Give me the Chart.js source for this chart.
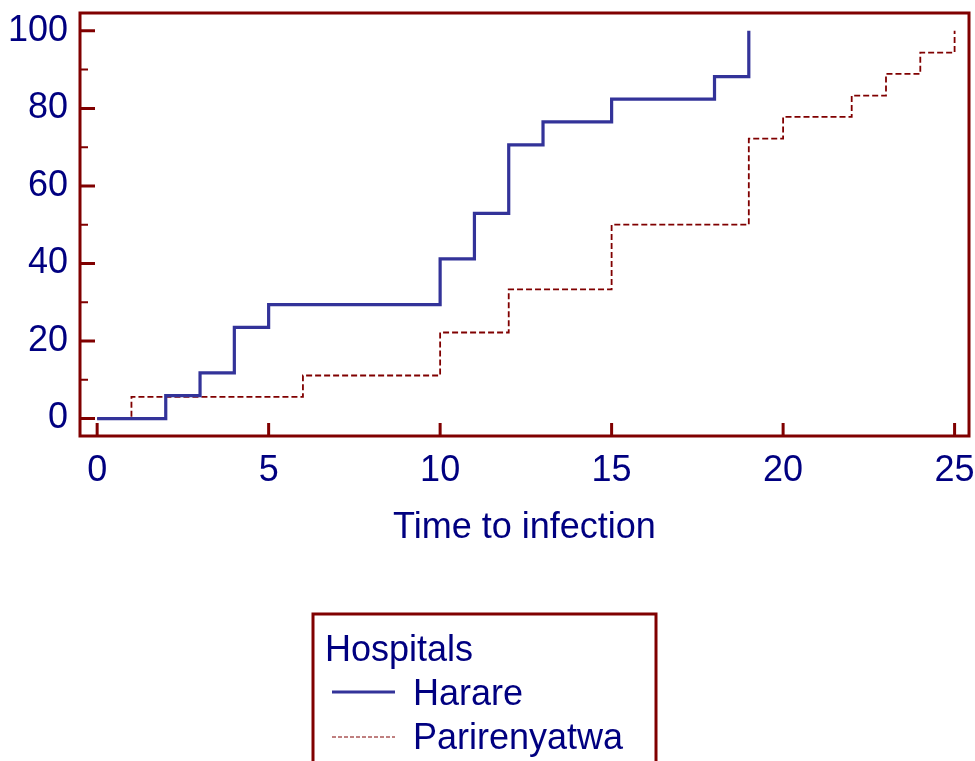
<!DOCTYPE html>
<html>
<head>
<meta charset="utf-8">
<script src="https://cdn.jsdelivr.net/npm/chart.js@4/dist/chart.umd.min.js"></script>
<style>
  html, body { margin: 0; padding: 0; background: #fff; }
  #wrap { width: 975px; height: 761px; position: relative; }
</style>
</head>
<body>
<div id="wrap"><canvas id="km"></canvas></div>
<script>
// Cumulative infection curves by hospital (step functions)
const harareTimes = [0, 2, 3, 4, 5, 10, 11, 12, 13, 15, 18, 19];
const harareValues = [0, 5.9, 11.8, 23.5, 29.4, 41.2, 52.9, 70.6, 76.5, 82.4, 88.2, 100];
const parirenyatwaTimes = [0, 1, 6, 10, 12, 15, 19, 20, 22, 23, 24, 25];
const parirenyatwaValues = [0, 5.6, 11.1, 22.2, 33.3, 50, 72.2, 77.8, 83.3, 88.9, 94.4, 100];
const xTicks = [0, 5, 10, 15, 20, 25];
const yTicks = [0, 20, 40, 60, 80, 100];
const yMinorTicks = [10, 30, 50, 70, 90];
const legendTitle = 'Hospitals';
const xTitle = 'Time to infection';

const FRAME = '#800000';
const NAVY = '#000080';
const FONT = 'Liberation Sans, Arial, sans-serif';

function toPoints(xs, ys) {
  return xs.map((x, i) => ({ x: x, y: ys[i] }));
}

// inward tick marks + box round the plot
const framePlugin = {
  id: 'frame',
  afterDatasetsDraw(chart) {
    const { ctx, chartArea: a, scales } = chart;
    ctx.save();
    ctx.strokeStyle = FRAME;
    ctx.lineWidth = 3;
    ctx.lineCap = 'butt';
    ctx.beginPath();
    xTicks.forEach(v => {
      const px = scales.x.getPixelForValue(v);
      ctx.moveTo(px, a.bottom);
      ctx.lineTo(px, a.bottom - 13);
    });
    yTicks.forEach(v => {
      const py = scales.y.getPixelForValue(v);
      ctx.moveTo(a.left, py);
      ctx.lineTo(a.left + 15, py);
    });
    ctx.stroke();
    ctx.lineWidth = 2;
    ctx.beginPath();
    yMinorTicks.forEach(v => {
      const py = scales.y.getPixelForValue(v);
      ctx.moveTo(a.left, py);
      ctx.lineTo(a.left + 8, py);
    });
    ctx.stroke();
    ctx.lineWidth = 3;
    ctx.strokeRect(a.left, a.top, a.right - a.left, a.bottom - a.top);
    ctx.restore();
  }
};

// boxed legend with title, below the axis title
const boxLegend = {
  id: 'boxLegend',
  afterDraw(chart) {
    const ctx = chart.ctx;
    ctx.save();
    ctx.strokeStyle = FRAME;
    ctx.lineWidth = 3;
    ctx.strokeRect(313, 614, 343, 160);
    ctx.font = '36px ' + FONT;
    ctx.fillStyle = NAVY;
    ctx.textBaseline = 'alphabetic';
    ctx.textAlign = 'left';
    ctx.fillText(legendTitle, 325, 661);
    chart.data.datasets.forEach((ds, i) => {
      const base = 705 + i * 44;
      const ly = 692 + i * 45;
      ctx.strokeStyle = ds.borderColor;
      ctx.lineWidth = i === 0 ? 3 : 1;
      ctx.setLineDash(i === 0 ? [] : [4, 2]);
      ctx.beginPath();
      ctx.moveTo(332, ly);
      ctx.lineTo(395, ly);
      ctx.stroke();
      ctx.setLineDash([]);
      ctx.fillText(ds.label, 413, base);
    });
    ctx.restore();
  }
};

new Chart(document.getElementById('km'), {
  type: 'line',
  data: {
    datasets: [{
      label: 'Harare',
      data: toPoints(harareTimes, harareValues),
      borderColor: '#333399',
      borderWidth: 3.2,
      stepped: true,
      pointRadius: 0,
      fill: false
    }, {
      label: 'Parirenyatwa',
      data: toPoints(parirenyatwaTimes, parirenyatwaValues),
      borderColor: FRAME,
      borderWidth: 1.8,
      borderDash: [6, 3],
      stepped: true,
      pointRadius: 0,
      fill: false
    }]
  },
  options: {
    responsive: true,
    maintainAspectRatio: false,
    animation: false,
    layout: { padding: { top: 13, right: 6, left: 0, bottom: 0 } },
    plugins: { legend: { display: false }, tooltip: { enabled: false } },
    scales: {
      x: {
        type: 'linear',
        min: -0.5,
        max: 25.42,
        afterBuildTicks: s => { s.ticks = xTicks.map(v => ({ value: v })); },
        afterFit: s => { s.height = 325; s.paddingLeft = 0; s.paddingRight = 0; },
        grid: { display: false, drawTicks: false },
        border: { display: false },
        ticks: { color: NAVY, font: { size: 36, family: FONT }, padding: 13, maxRotation: 0 },
        title: {
          display: true, text: xTitle, color: NAVY,
          font: { size: 36, family: FONT, lineHeight: 1.2 },
          padding: { top: 0, bottom: 211 }
        }
      },
      y: {
        min: -4.5,
        max: 104.6,
        afterBuildTicks: s => { s.ticks = yTicks.map(v => ({ value: v })); },
        afterFit: s => { s.width = 80; s.paddingTop = 0; s.paddingBottom = 0; },
        grid: { display: false, drawTicks: false },
        border: { display: false },
        ticks: { color: NAVY, font: { size: 36, family: FONT }, padding: 12 }
      }
    }
  },
  plugins: [framePlugin, boxLegend]
});
</script>
</body>
</html>
